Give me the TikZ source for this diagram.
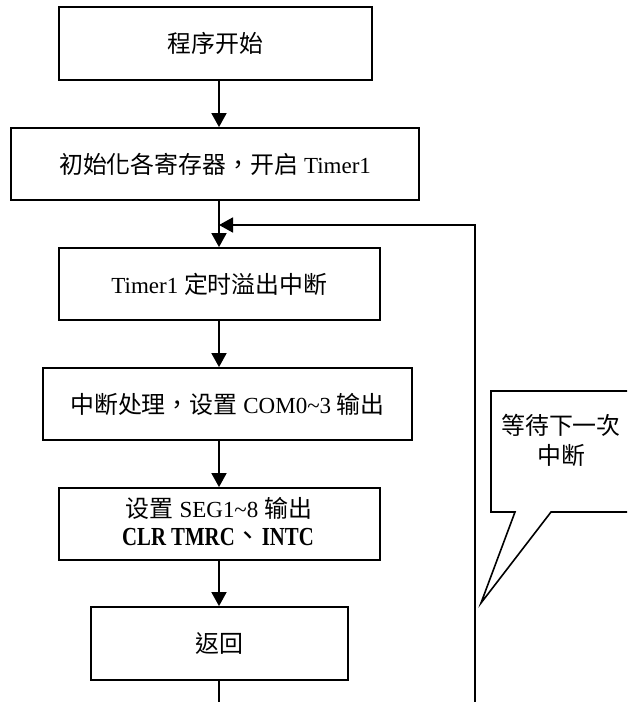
\documentclass[tikz,border=0pt]{standalone}
\usepackage{fontspec}
\setmainfont{Liberation Serif}
\newfontfamily\cjk[Scale=1.04]{Noto Sans CJK TC}
\newfontfamily\bcond[FakeStretch=0.8]{Liberation Serif Bold}
\usetikzlibrary{arrows.meta}
\tikzset{
  txt/.style={font=\fontsize{23}{30}\selectfont},
  box/.style={draw, line width=1.8pt, inner sep=0pt, align=center, txt},
  arr/.style={line width=1.8pt, -{Triangle[width=15pt,length=14pt]}},
  ln/.style={line width=1.8pt},
}
\begin{document}
\begin{tikzpicture}[x=1pt,y=-1pt]
\useasboundingbox (0,0) rectangle (627,702);
\coordinate (spine) at (219,0);
\node[box, minimum width=313pt, minimum height=73pt] (b1) at (215.5,43.5) {\cjk 程序开始};
\node[box, minimum width=408pt, minimum height=72pt] (b2) at (215,164) {{\cjk 初始化各寄存器，开启} Timer1};
\node[box, minimum width=321pt, minimum height=72pt] (b3) at (219.5,284) {Timer1 {\cjk 定时溢出中断}};
\node[box, minimum width=369pt, minimum height=72pt] (b4) at (227.5,404) {{\cjk 中断处理，设置} COM0\textasciitilde 3 {\cjk 输出}};
\node[box, minimum width=321pt, minimum height=72pt] (b5) at (219.5,524) {};
\node[txt, align=center, inner sep=0pt] (b5l1) at (219,508) {{\cjk 设置} SEG1\textasciitilde 8 {\cjk 输出}};
\node[inner sep=0pt, font=\fontsize{26}{30}\selectfont] (b5l2) at (218,537) {\bcond CLR TMRC{\cjk 、}INTC};
\node[box, minimum width=257pt, minimum height=73pt] (b6) at (219.5,643.5) {\cjk 返回};
\coordinate (rtop) at (475,225);
\coordinate (rbot) at (475,702);
\coordinate (end) at (219,702);
\draw[arr] (b1.south -| spine) -- (b2.north -| spine);
\draw[arr] (b2.south -| spine) -- (b3.north -| spine);
\draw[arr] (b3.south -| spine) -- (b4.north -| spine);
\draw[arr] (b4.south -| spine) -- (b5.north -| spine);
\draw[arr] (b5.south -| spine) -- (b6.north -| spine);
\draw[ln] (b6.south -| spine) -- (end);
\draw[arr] (rbot) -- (rtop) -- (rtop -| spine);
% callout
\draw[line width=1.6pt, line join=miter] (627,391) -- (491,391) -- (491,512) -- (515,512) -- (481,603) -- (551,512) -- (627,512);
\node[txt, align=center] (note) at (561,440) {\cjk 等待下一次\\\cjk 中断};
\end{tikzpicture}
\end{document}
